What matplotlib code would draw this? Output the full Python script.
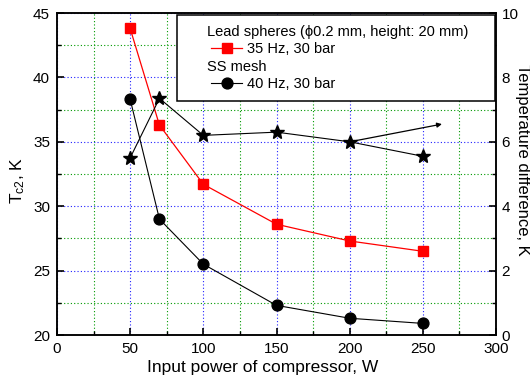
import matplotlib
matplotlib.use("Agg")
import matplotlib.pyplot as plt
from matplotlib.lines import Line2D
from matplotlib.offsetbox import DrawingArea
from matplotlib.ticker import MultipleLocator

plt.rcParams['font.family'] = ['Liberation Sans', 'DejaVu Sans']
plt.rcParams['mathtext.fontset'] = 'custom'
plt.rcParams['mathtext.rm'] = 'Liberation Sans'
plt.rcParams['mathtext.it'] = 'Liberation Sans'

# Input power of compressor, W
power = [50, 70, 100, 150, 200, 250]
# Tc2 with lead spheres regenerator (35 Hz, 30 bar), K
tc2_lead = [43.8, 36.3, 31.7, 28.6, 27.3, 26.5]
# Tc2 with SS mesh regenerator (40 Hz, 30 bar), K
tc2_mesh = [38.3, 29.0, 25.5, 22.3, 21.3, 20.9]
# Temperature difference between the two, K
temp_diff = [5.5, 7.35, 6.2, 6.3, 6.0, 5.55]
# Arrow pointing the star series to the right-hand axis
arrow_from = (200, 6.0)
arrow_to = (263, 6.55)

x_ticks = [0, 50, 100, 150, 200, 250, 300]
left_ticks = [20, 25, 30, 35, 40, 45]
right_ticks = [0, 2, 4, 6, 8, 10]

TICK_FS = 11
LABEL_FS = 12.5
LEG_FS = 10.5

fig = plt.figure(figsize=(5.30, 3.84), dpi=100)
ax = fig.add_axes([0.1075, 0.1276, 0.8285, 0.8385])
ax2 = ax.twinx()

ax.set_xlim(0, 300)
ax.set_ylim(20, 45)
ax2.set_ylim(0, 10)

ax.set_xticks(x_ticks)
ax.set_yticks(left_ticks)
ax2.set_yticks(right_ticks)
ax.xaxis.set_minor_locator(MultipleLocator(25))
ax.yaxis.set_minor_locator(MultipleLocator(2.5))
ax2.yaxis.set_minor_locator(MultipleLocator(1))

# dotted grid: blue on major ticks, green on minor ticks
ax.grid(which='major', color='#2020ff', linestyle=(0, (1, 2)), linewidth=0.8)
ax.grid(which='minor', color='#009a00', linestyle=(0, (1, 2)), linewidth=0.8)
ax.set_axisbelow(True)

for a in (ax, ax2):
    a.tick_params(which='major', direction='in', length=5, width=1.2,
                  labelsize=TICK_FS, pad=4)
    a.tick_params(which='minor', direction='in', length=3, width=1.0)
    for s in a.spines.values():
        s.set_linewidth(1.1)
ax.tick_params(which='both', top=False, right=False)
ax.tick_params(axis='x', pad=5)
ax.tick_params(axis='y', pad=5)
ax2.tick_params(which='both', left=False)

l_lead, = ax.plot(power, tc2_lead, color='#ff0000', linewidth=0.9,
                  marker='s', markersize=7.5, markerfacecolor='#ff0000',
                  markeredgecolor='#ff0000', zorder=3)
l_mesh, = ax.plot(power, tc2_mesh, color='black', linewidth=0.8,
                  marker='o', markersize=7.8, markerfacecolor='black',
                  markeredgecolor='black', zorder=3)
ax2.plot(power, temp_diff, color='black', linewidth=0.8,
         marker='*', markersize=10, markerfacecolor='black',
         markeredgecolor='black', zorder=3)
ax2.annotate('', xy=arrow_to, xytext=arrow_from,
             arrowprops=dict(arrowstyle='-|>', color='black', lw=0.9,
                             mutation_scale=7, shrinkA=0, shrinkB=0))

ax.set_xlabel('Input power of compressor, W', fontsize=LABEL_FS)
ax.xaxis.set_label_coords(0.469, -0.078)
ax.set_ylabel(r'T$_{\mathrm{c2}}$, K', fontsize=LABEL_FS)
ax.yaxis.set_label_coords(-0.068, 0.481)
ax2.set_ylabel('Temperature difference, K', fontsize=12,
               rotation=270, rotation_mode='anchor', va='top', ha='center')
ax2.yaxis.set_label_coords(1.078, 0.543)

blank = Line2D([], [], linestyle='none', marker=None)
handles = [blank, l_lead, blank, l_mesh]
labels = ['Lead spheres (ϕ0.2 mm, height: 20 mm)', '35 Hz, 30 bar',
          'SS mesh', '40 Hz, 30 bar']
leg = ax2.legend(handles, labels, loc='upper left', mode='expand',
                 bbox_to_anchor=(0.2733, 0.736, 0.7244, 0.2578),
                 borderaxespad=0, fontsize=LEG_FS, frameon=True,
                 fancybox=False, edgecolor='black', framealpha=1,
                 handlelength=2.15, handletextpad=0.3, labelspacing=0.22,
                 borderpad=0.7)
leg.get_frame().set_linewidth(1.1)

# indent every row; headings sit flush with the sample lines
column = leg._legend_handle_box.get_children()[0]
for i, row in enumerate(column.get_children()):
    if i in (0, 2):
        row.get_children()[0].width = 0
        row.sep = 0
    row.get_children().insert(0, DrawingArea(14, 0))

fig.savefig('out.png', dpi=100)
